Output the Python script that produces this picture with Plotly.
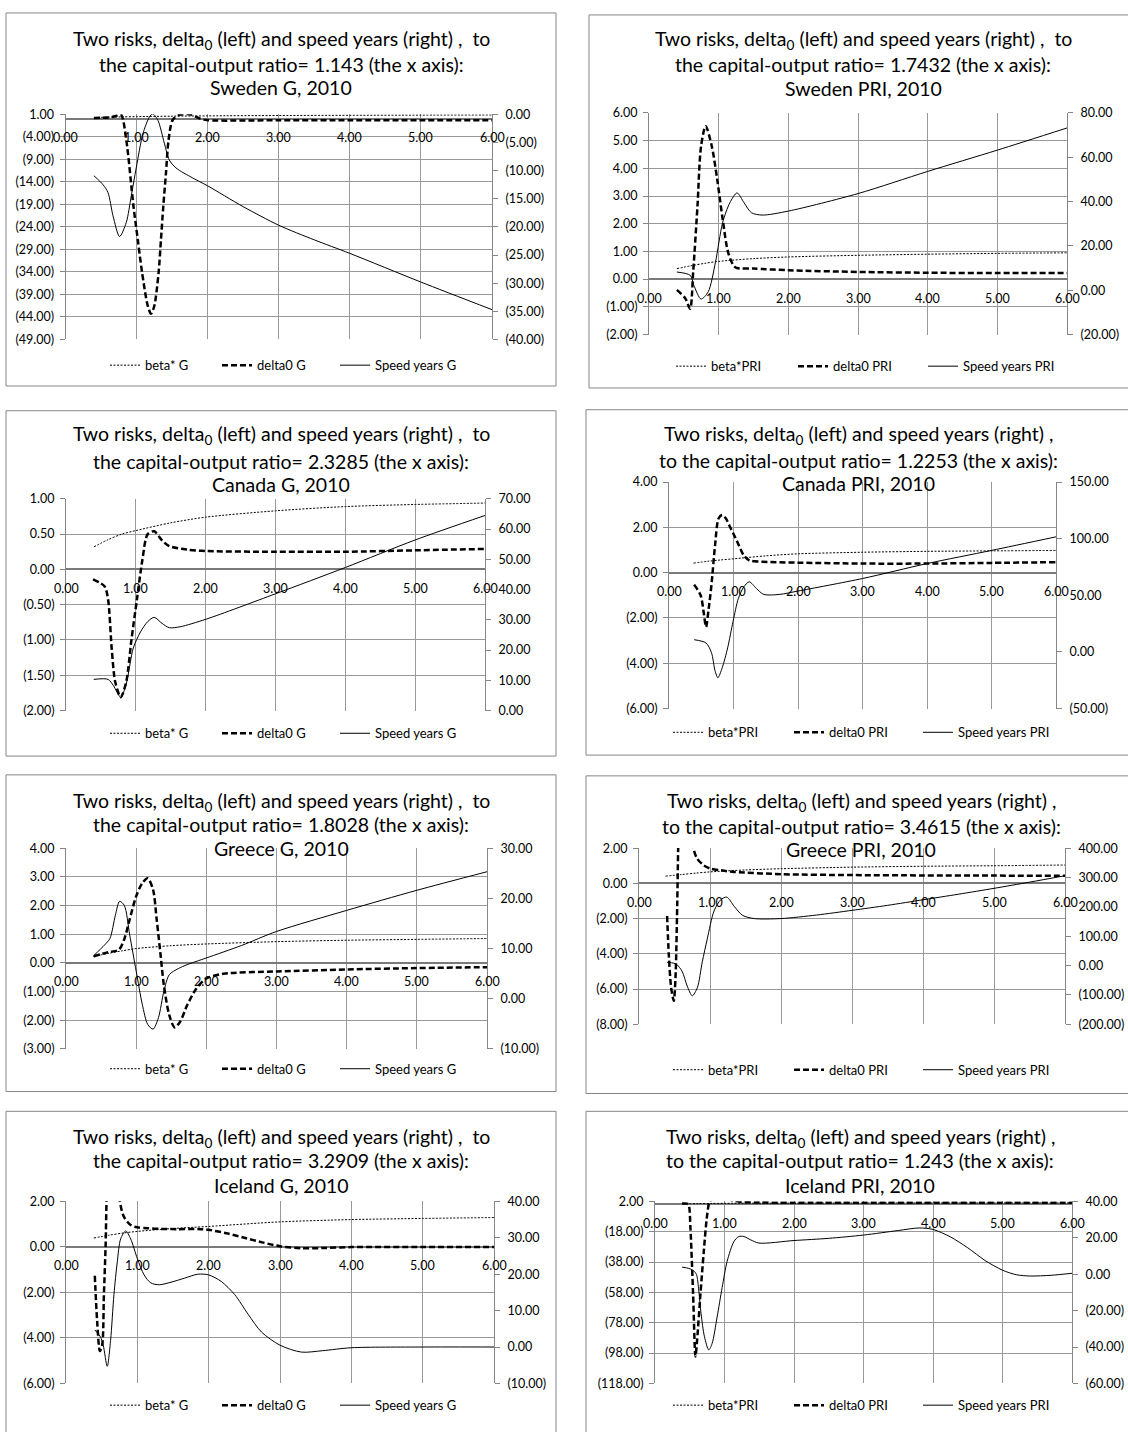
import plotly.graph_objects as go

W, H = 1128, 1432

# ---------------- DATA ----------------
# Panel 1: Sweden G
SWE_G_BETA_X = [0.4, 0.6, 0.8, 1.0, 1.5, 2, 3, 4, 5, 6]
SWE_G_BETA = [0.3, 0.38, 0.45, 0.5, 0.6, 0.67, 0.75, 0.8, 0.84, 0.87]
SWE_G_DELTA_X = [0.4, 0.5, 0.6, 0.7, 0.78, 0.855, 0.956, 1.017, 1.077, 1.157, 1.203, 1.25, 1.31,
                 1.343, 1.376, 1.413, 1.45, 1.506, 1.6, 1.75, 1.9, 2.0, 3.0, 4.0, 5.0, 6.0]
SWE_G_DELTA = [0.2, 0.25, 0.3, 0.6, 0.95, -4.7, -19.4, -26.8, -34.1, -41.5, -43.3, -41.5, -34.1,
               -26.8, -19.4, -12.1, -4.7, -0.3, 0.9, 1.0, 0.0, -0.3, -0.3, -0.3, -0.3, -0.3]
SWE_G_SPEED_X = [0.4, 0.528, 0.598, 0.668, 0.761, 0.855, 0.925, 0.995, 1.09, 1.18, 1.227, 1.3, 1.39,
                 1.46, 1.553, 1.79, 2.0, 2.5, 3.0, 3.5, 4.0, 5.0, 6.0]
SWE_G_SPEED = [-10.9, -12.5, -13.9, -18.0, -21.7, -19.2, -14.5, -9.5, -3.4, -0.47, 0.1, -1.05, -5.1,
               -8.1, -9.5, -11.3, -12.7, -16.4, -19.7, -22.3, -24.7, -29.8, -34.7]

# Panel 2: Sweden PRI
SWE_P_BETA_X = [0.4, 0.6, 0.8, 1.0, 1.5, 2, 3, 4, 5, 6]
SWE_P_BETA = [0.38, 0.48, 0.57, 0.64, 0.74, 0.8, 0.86, 0.9, 0.93, 0.95]
SWE_P_DELTA_X = [0.4, 0.52, 0.59, 0.634, 0.696, 0.747, 0.814, 0.902, 0.979, 1.057, 1.134, 1.211,
                 1.263, 1.5, 2.0, 3.0, 4.0, 5.0, 6.0]
SWE_P_DELTA = [-0.39, -0.69, -1.07, 0.26, 2.64, 4.79, 5.52, 4.79, 3.6, 2.17, 0.98, 0.5,
               0.4, 0.38, 0.32, 0.26, 0.23, 0.22, 0.22]
SWE_P_SPEED_X = [0.4, 0.593, 0.644, 0.747, 0.85, 0.954, 1.057, 1.16, 1.263, 1.366, 1.469, 1.624,
                 2.0, 3.0, 4.0, 5.0, 6.0]
SWE_P_SPEED = [8.2, 6.7, 2.2, -4.0, -0.7, 12.6, 30.5, 39.4, 43.9, 39.4, 35.0, 33.9,
               35.7, 43.6, 53.6, 63.2, 73.2]

# Panel 3: Canada G
CAN_G_BETA_X = [0.4, 0.6, 0.8, 1.0, 1.5, 2, 3, 4, 5, 6]
CAN_G_BETA = [0.32, 0.42, 0.5, 0.55, 0.66, 0.74, 0.83, 0.89, 0.92, 0.94]
CAN_G_DELTA_X = [0.387, 0.552, 0.603, 0.655, 0.706, 0.784, 0.861, 0.938, 1.015, 1.093, 1.17, 1.263,
                 1.376, 1.479, 1.737, 2.005, 3.0, 4.0, 5.0, 6.0]
CAN_G_DELTA = [-0.14, -0.24, -0.43, -1.13, -1.6, -1.81, -1.6, -0.99, -0.43, 0.13, 0.5, 0.54,
               0.41, 0.33, 0.28, 0.26, 0.25, 0.25, 0.27, 0.29]
CAN_G_SPEED_X = [0.397, 0.603, 0.68, 0.784, 0.861, 0.964, 1.067, 1.17, 1.263, 1.376, 1.479, 1.634,
                 2.005, 3.0, 4.0, 5.0, 6.0]
CAN_G_SPEED = [10.3, 10.3, 8.2, 4.4, 8.7, 20.7, 26.0, 29.4, 30.8, 28.8, 27.4, 27.7,
               30.2, 38.6, 47.3, 56.4, 64.5]

# Panel 4: Canada PRI
CAN_P_BETA_X = [0.38, 0.6, 0.8, 1.0, 1.5, 2, 3, 4, 5, 6]
CAN_P_BETA = [0.42, 0.5, 0.56, 0.61, 0.74, 0.83, 0.9, 0.94, 0.96, 0.98]
CAN_P_DELTA_X = [0.39, 0.49, 0.54, 0.574, 0.615, 0.658, 0.714, 0.77, 0.825, 0.88, 0.937, 1.049,
                 1.16, 1.244, 1.33, 2.0, 3.0, 4.0, 5.0, 6.0]
CAN_P_DELTA = [-0.53, -1.0, -1.8, -2.4, -1.6, -0.55, 1.2, 2.4, 2.54, 2.4, 2.07, 1.42,
               0.76, 0.54, 0.5, 0.44, 0.4, 0.4, 0.43, 0.46]
CAN_P_SPEED_X = [0.39, 0.574, 0.658, 0.714, 0.758, 0.825, 0.909, 0.993, 1.076, 1.16, 1.244, 1.355,
                 1.467, 1.718, 1.997, 3.0, 4.0, 5.0, 6.0]
CAN_P_SPEED = [10.8, 7.9, -0.6, -16.6, -22.8, -14.0, 3.5, 26.9, 47.3, 57.5, 61.9, 56.0,
               50.8, 50.8, 53.7, 64.8, 78.0, 89.6, 101.6]

# Panel 5: Greece G
GRC_G_BETA_X = [0.39, 0.6, 0.8, 1.0, 1.5, 2, 3, 4, 5, 6]
GRC_G_BETA = [0.23, 0.33, 0.42, 0.5, 0.6, 0.66, 0.74, 0.79, 0.82, 0.85]
GRC_G_DELTA_X = [0.395, 0.6, 0.754, 0.831, 0.908, 1.0, 1.087, 1.164, 1.241, 1.292, 1.344, 1.395,
                 1.472, 1.549, 1.626, 1.728, 1.856, 1.995, 2.241, 3.0, 4.0, 5.0, 6.0]
GRC_G_DELTA = [0.23, 0.37, 0.46, 0.83, 1.52, 2.32, 2.78, 2.95, 2.55, 1.52, 0.37, -0.78,
               -1.82, -2.25, -2.05, -1.47, -0.9, -0.55, -0.38, -0.3, -0.23, -0.18, -0.15]
GRC_G_SPEED_X = [0.395, 0.549, 0.626, 0.703, 0.764, 0.831, 0.908, 1.0, 1.087, 1.164, 1.241, 1.318,
                 1.395, 1.472, 1.6, 1.728, 1.995, 2.5, 3.0, 4.0, 5.0, 6.0]
GRC_G_SPEED = [8.6, 10.7, 12.0, 16.6, 19.4, 18.6, 12.7, 5.5, -1.1, -5.1, -6.05, -3.75,
               1.5, 4.8, 6.0, 6.8, 8.1, 10.6, 13.4, 17.6, 21.6, 25.3]

# Panel 6: Greece PRI
GRC_P_BETA_X = [0.373, 0.6, 0.8, 1.0, 1.5, 2, 3, 4, 5, 6]
GRC_P_BETA = [0.41, 0.5, 0.58, 0.65, 0.76, 0.83, 0.92, 0.97, 1.0, 1.04]
GRC_P_DELTA_X = [0.396, 0.42, 0.453, 0.49, 0.514, 0.538, 0.552, 0.6, 0.68, 0.73, 0.764, 0.821,
                 0.915, 1.009, 1.151, 1.34, 2.0, 3.0, 4.0, 5.0, 6.0]
GRC_P_DELTA = [-1.85, -4.07, -5.93, -6.67, -5.37, -1.3, 2.04, 10.0, 12.0, 5.0, 2.04, 1.39,
               1.02, 0.83, 0.74, 0.65, 0.52, 0.47, 0.45, 0.44, 0.43]
GRC_P_SPEED_X = [0.396, 0.49, 0.538, 0.608, 0.679, 0.75, 0.821, 0.892, 0.962, 1.057, 1.151, 1.236,
                 1.34, 1.458, 1.623, 2.0, 2.5, 3.0, 3.5, 4.0, 4.5, 5.0, 5.5, 6.0]
GRC_P_SPEED = [11, 8, 2, -20, -70, -103, -76, 13, 91, 186, 224, 233,
               202, 171, 160, 160, 172, 188, 205, 224, 243, 263, 284, 306]

# Panel 7: Iceland G
ISL_G_BETA_X = [0.39, 0.6, 0.8, 1.0, 1.5, 2, 3, 4, 5, 6]
ISL_G_BETA = [0.39, 0.51, 0.61, 0.68, 0.81, 0.9, 1.1, 1.2, 1.25, 1.29]
ISL_G_DELTA_X = [0.404, 0.437, 0.475, 0.508, 0.531, 0.555, 0.569, 0.62, 0.68, 0.72, 0.757, 0.813,
                 0.907, 1.0, 1.142, 1.33, 1.566, 1.895, 2.0, 2.25, 2.5, 2.75, 3.0, 3.3, 3.6,
                 4.0, 5.0, 6.0]
ISL_G_DELTA = [-1.27, -3.28, -4.58, -4.29, -2.13, 0.03, 2.19, 8.0, 10.0, 5.0, 1.97, 1.32,
               0.96, 0.86, 0.82, 0.79, 0.78, 0.78, 0.75, 0.6, 0.4, 0.2, 0.03, -0.06, -0.05,
               -0.01, 0.0, 0.0]
ISL_G_SPEED_X = [0.404, 0.484, 0.522, 0.578, 0.625, 0.672, 0.719, 0.766, 0.837, 0.907, 1.0, 1.095,
                 1.19, 1.307, 1.472, 1.66, 1.848, 2.0, 2.177, 2.365, 2.553, 2.741, 3.0, 3.3,
                 3.6, 4.0, 5.0, 6.0]
ISL_G_SPEED = [4.7, 2.75, 0.5, -5.3, 1.85, 14.4, 23.4, 29.7, 31.9, 29.7, 24.3, 19.8,
               17.6, 17.1, 17.8, 18.9, 20.0, 19.8, 18.0, 14.4, 9.0, 4.1, 0.5, -1.4,
               -1.0, -0.2, 0.0, 0.0]

# Panel 8: Iceland PRI
ISL_P_BETA_X = [0.39, 0.6, 0.8, 1.0, 1.5, 2, 3, 4, 5, 6]
ISL_P_BETA = [0.4, 0.52, 0.62, 0.7, 0.8, 0.85, 0.92, 0.96, 0.98, 1.0]
ISL_P_DELTA_X = [0.39, 0.46, 0.486, 0.51, 0.548, 0.582, 0.606, 0.654, 0.702, 0.75, 0.788, 0.85,
                 0.95, 1.05, 1.135, 1.25, 1.5, 2.0, 3.0, 4.0, 5.0, 6.0]
ISL_P_DELTA = [0.6, 0.5, -0.6, -15.7, -59.0, -100.2, -89.3, -59.0, -30.9, -7.1, 2.0, 4.0,
               4.5, 3.5, 2.4, 1.6, 1.25, 1.15, 1.1, 1.1, 1.1, 1.1]
ISL_P_SPEED_X = [0.389, 0.486, 0.548, 0.596, 0.63, 0.663, 0.712, 0.774, 0.822, 0.894, 0.966, 1.038,
                 1.135, 1.207, 1.279, 1.375, 1.495, 2.0, 2.5, 3.0, 3.5, 3.8, 4.0, 4.25, 4.5,
                 4.75, 5.0, 5.2, 5.4, 5.7, 6.0]
ISL_P_SPEED = [3.9, 3.2, 2.1, -0.1, -9.1, -21.7, -34.4, -41.6, -38.0, -23.5, -7.3, 7.1,
               17.9, 20.7, 20.7, 18.9, 17.1, 18.5, 19.7, 21.5, 24.0, 25.4, 24.6, 20.5, 14.5,
               7.5, 2.2, -0.3, -1.0, -0.6, 0.5]

# Tick values (left / right axes) and x tick labels
X_TICKS = [0, 1, 2, 3, 4, 5, 6]
P1_LEFT = [1, -4, -9, -14, -19, -24, -29, -34, -39, -44, -49]
P1_RIGHT = [0, -5, -10, -15, -20, -25, -30, -35, -40]
P2_LEFT = [6, 5, 4, 3, 2, 1, 0, -1, -2]
P2_RIGHT = [80, 60, 40, 20, 0, -20]
P3_LEFT = [1, 0.5, 0, -0.5, -1, -1.5, -2]
P3_RIGHT = [70, 60, 50, 40, 30, 20, 10, 0]
P4_LEFT = [4, 2, 0, -2, -4, -6]
P4_RIGHT = [150, 100, 50, 0, -50]
P5_LEFT = [4, 3, 2, 1, 0, -1, -2, -3]
P5_RIGHT = [30, 20, 10, 0, -10]
P6_LEFT = [2, 0, -2, -4, -6, -8]
P6_RIGHT = [400, 300, 200, 100, 0, -100, -200]
P7_LEFT = [2, 0, -2, -4, -6]
P7_RIGHT = [40, 30, 20, 10, 0, -10]
P8_LEFT = [2, -18, -38, -58, -78, -98, -118]
P8_RIGHT = [40, 20, 0, -20, -40, -60]

TITLE_L1_TO = "Two risks, delta<sub>0</sub> (left) and speed years (right) ,  to"
TITLE_L1_COMMA = "Two risks, delta<sub>0</sub> (left) and speed years (right) ,"

# ---------------- LAYOUT CONFIG ----------------
LEG_G = (104, 216, 334)
LEG_P_TOP = (670, 792, 922)
LEG_P = (667, 788, 917)
panels = [
    dict(beta=(SWE_G_BETA_X, SWE_G_BETA), delta=(SWE_G_DELTA_X, SWE_G_DELTA), speed=(SWE_G_SPEED_X, SWE_G_SPEED),
         left=P1_LEFT, right=P1_RIGHT, suffix="G",
         titles=[TITLE_L1_TO, "the capital-output ratio= 1.143 (the x axis):", "Sweden G, 2010"],
         box=(6, 5, 556, 382), plot=(65.5, 107.5, 492, 335), ty=(32, 57, 80), tx=281, legx=LEG_G, legy=361),
    dict(beta=(SWE_P_BETA_X, SWE_P_BETA), delta=(SWE_P_DELTA_X, SWE_P_DELTA), speed=(SWE_P_SPEED_X, SWE_P_SPEED),
         left=P2_LEFT, right=P2_RIGHT, suffix="PRI",
         titles=[TITLE_L1_TO, "the capital-output ratio= 1.7432 (the x axis):", "Sweden PRI, 2010"],
         box=(589, 7, 1140, 384), plot=(649, 106, 1067, 330), ty=(32, 57, 81), tx=863, legx=LEG_P_TOP, legy=362),
    dict(beta=(CAN_G_BETA_X, CAN_G_BETA), delta=(CAN_G_DELTA_X, CAN_G_DELTA), speed=(CAN_G_SPEED_X, CAN_G_SPEED),
         left=P3_LEFT, right=P3_RIGHT, suffix="G",
         titles=[TITLE_L1_TO, "the capital-output ratio= 2.3285 (the x axis):", "Canada G, 2010"],
         box=(6, 407, 556, 756), plot=(66, 496, 485, 710), ty=(432, 458, 482), tx=281, legx=LEG_G, legy=733),
    dict(beta=(CAN_P_BETA_X, CAN_P_BETA), delta=(CAN_P_DELTA_X, CAN_P_DELTA), speed=(CAN_P_SPEED_X, CAN_P_SPEED),
         left=P4_LEFT, right=P4_RIGHT, suffix="PRI",
         titles=[TITLE_L1_COMMA, "to the capital-output ratio= 1.2253 (the x axis):", "Canada PRI, 2010"],
         box=(586, 406, 1140, 755), plot=(669, 479, 1056, 708), ty=(432, 457, 481), tx=858, legx=LEG_P, legy=732),
    dict(beta=(GRC_G_BETA_X, GRC_G_BETA), delta=(GRC_G_DELTA_X, GRC_G_DELTA), speed=(GRC_G_SPEED_X, GRC_G_SPEED),
         left=P5_LEFT, right=P5_RIGHT, suffix="G",
         titles=[TITLE_L1_TO, "the capital-output ratio= 1.8028 (the x axis):", "Greece G, 2010"],
         box=(6, 775, 556, 1095), plot=(66, 849, 487, 1052), ty=(802, 825, 849), tx=281, legx=LEG_G, legy=1072),
    dict(beta=(GRC_P_BETA_X, GRC_P_BETA), delta=(GRC_P_DELTA_X, GRC_P_DELTA), speed=(GRC_P_SPEED_X, GRC_P_SPEED),
         left=P6_LEFT, right=P6_RIGHT, suffix="PRI",
         titles=[TITLE_L1_COMMA, "to the capital-output ratio= 3.4615 (the x axis):", "Greece PRI, 2010"],
         box=(586, 776, 1140, 1097), plot=(639, 849, 1065, 1027), ty=(802, 827, 850), tx=861, legx=LEG_P, legy=1073),
    dict(beta=(ISL_G_BETA_X, ISL_G_BETA), delta=(ISL_G_DELTA_X, ISL_G_DELTA), speed=(ISL_G_SPEED_X, ISL_G_SPEED),
         left=P7_LEFT, right=P7_RIGHT, suffix="G",
         titles=[TITLE_L1_TO, "the capital-output ratio= 3.2909 (the x axis):", "Iceland G, 2010"],
         box=(6, 1115, 556, 1445), plot=(66, 1206, 494, 1390), ty=(1142, 1165, 1190), tx=281, legx=LEG_G, legy=1412),
    dict(beta=(ISL_P_BETA_X, ISL_P_BETA), delta=(ISL_P_DELTA_X, ISL_P_DELTA), speed=(ISL_P_SPEED_X, ISL_P_SPEED),
         left=P8_LEFT, right=P8_RIGHT, suffix="PRI",
         titles=[TITLE_L1_COMMA, "to the capital-output ratio= 1.243 (the x axis):", "Iceland PRI, 2010"],
         box=(586, 1115, 1140, 1445), plot=(655, 1206, 1072, 1390), ty=(1142, 1165, 1190), tx=860, legx=LEG_P, legy=1412),
]

FONT = "Lato, 'Open Sans', Arial, sans-serif"
GRID = "#999999"
AXIS = "#868686"
TICK_SIZE = 12.5
TITLE_SIZE = 19.5
LEGEND_SIZE = 13


def fmt(v):
    return "({:.2f})".format(-v) if v < 0 else "{:.2f}".format(v)


def px(x):
    return x / W


def py(y):
    return 1 - y / H


fig = go.Figure()
layout = dict(width=W, height=H, margin=dict(l=0, r=0, t=0, b=0),
              paper_bgcolor="white", plot_bgcolor="white",
              font=dict(family=FONT, color="black", size=12), showlegend=True)
annotations = []
shapes = []

for i, p in enumerate(panels):
    k = i + 1
    xa = "x" if k == 1 else "x%d" % k
    yl_n, yr_n = 2 * k - 1, 2 * k
    yl = "y" if yl_n == 1 else "y%d" % yl_n
    yr = "y%d" % yr_n
    sfx = p["suffix"]
    bname = "beta* G" if sfx == "G" else "beta*PRI"
    legs = []
    for j in range(3):
        n = 3 * i + j + 1
        legs.append("legend" if n == 1 else "legend%d" % n)

    fig.add_trace(go.Scatter(x=p["beta"][0], y=p["beta"][1], xaxis=xa, yaxis=yl, mode="lines",
                             name=bname, legend=legs[0],
                             line=dict(color="black", width=1, dash="2px,1.5px", shape="spline", smoothing=0.8)))
    fig.add_trace(go.Scatter(x=p["delta"][0], y=p["delta"][1], xaxis=xa, yaxis=yl, mode="lines",
                             name="delta0 " + sfx, legend=legs[1],
                             line=dict(color="black", width=2.5, dash="6px,3px", shape="spline", smoothing=0.8)))
    fig.add_trace(go.Scatter(x=p["speed"][0], y=p["speed"][1], xaxis=xa, yaxis=yr, mode="lines",
                             name="Speed years " + sfx, legend=legs[2],
                             line=dict(color="black", width=1, shape="spline", smoothing=0.8)))

    L, T, R, B = p["plot"]
    lt, rt = p["left"], p["right"]
    eps_l = (max(lt) - min(lt)) * 1e-4
    eps_r = (max(rt) - min(rt)) * 1e-4
    layout["xaxis" if k == 1 else "xaxis%d" % k] = dict(
        domain=[px(L), px(R)], anchor=yl, range=[0, 6], dtick=1, showgrid=True, gridcolor=GRID,
        gridwidth=1, showticklabels=False, ticks="", zeroline=False, showline=False, fixedrange=True)
    layout["yaxis" if yl_n == 1 else "yaxis%d" % yl_n] = dict(
        domain=[py(B), py(T)], anchor=xa, range=[min(lt) - eps_l, max(lt) + eps_l],
        tickvals=lt, ticktext=[fmt(v) for v in lt], showgrid=True, gridcolor=GRID, gridwidth=1,
        zeroline=True, zerolinecolor="#7a7a7a", zerolinewidth=2, showline=True, linecolor=AXIS,
        linewidth=1, ticks="outside", ticklen=5, tickcolor=AXIS, tickfont=dict(size=TICK_SIZE),
        ticklabelstandoff=3, fixedrange=True)
    layout["yaxis%d" % yr_n] = dict(
        overlaying=yl, side="right", anchor=xa, range=[min(rt) - eps_r, max(rt) + eps_r],
        tickvals=rt, ticktext=[fmt(v) for v in rt], showgrid=False, zeroline=False, showline=True,
        linecolor=AXIS, linewidth=1, ticks="outside", ticklen=5, tickcolor=AXIS,
        tickfont=dict(size=TICK_SIZE), ticklabelstandoff=5, fixedrange=True)

    for xv in X_TICKS:
        annotations.append(dict(x=xv, y=0, xref=xa, yref=yl, text=fmt(xv), showarrow=False,
                                yshift=-19, font=dict(size=TICK_SIZE), xanchor="center", yanchor="middle"))
    for line_txt, ty in zip(p["titles"], p["ty"]):
        annotations.append(dict(x=px(p["tx"]), y=py(ty), xref="paper", yref="paper", text=line_txt,
                                showarrow=False, font=dict(size=TITLE_SIZE), xanchor="center",
                                yanchor="middle"))
    bx0, by0, bx1, by1 = p["box"]
    shapes.append(dict(type="rect", xref="paper", yref="paper", x0=px(bx0), x1=px(bx1),
                       y0=py(by1), y1=py(by0), line=dict(color=AXIS, width=1), layer="below"))
    for j in range(3):
        layout[legs[j]] = dict(orientation="h", x=px(p["legx"][j] + 1), y=py(p["legy"]), xanchor="left",
                               yanchor="middle", font=dict(size=LEGEND_SIZE), bgcolor="rgba(0,0,0,0)",
                               borderwidth=0)

layout["annotations"] = annotations
layout["shapes"] = shapes
fig.update_layout(**layout)

fig.write_html("out.html", config={"displayModeBar": False, "responsive": False},
               post_script="document.body.style.margin='0';")
